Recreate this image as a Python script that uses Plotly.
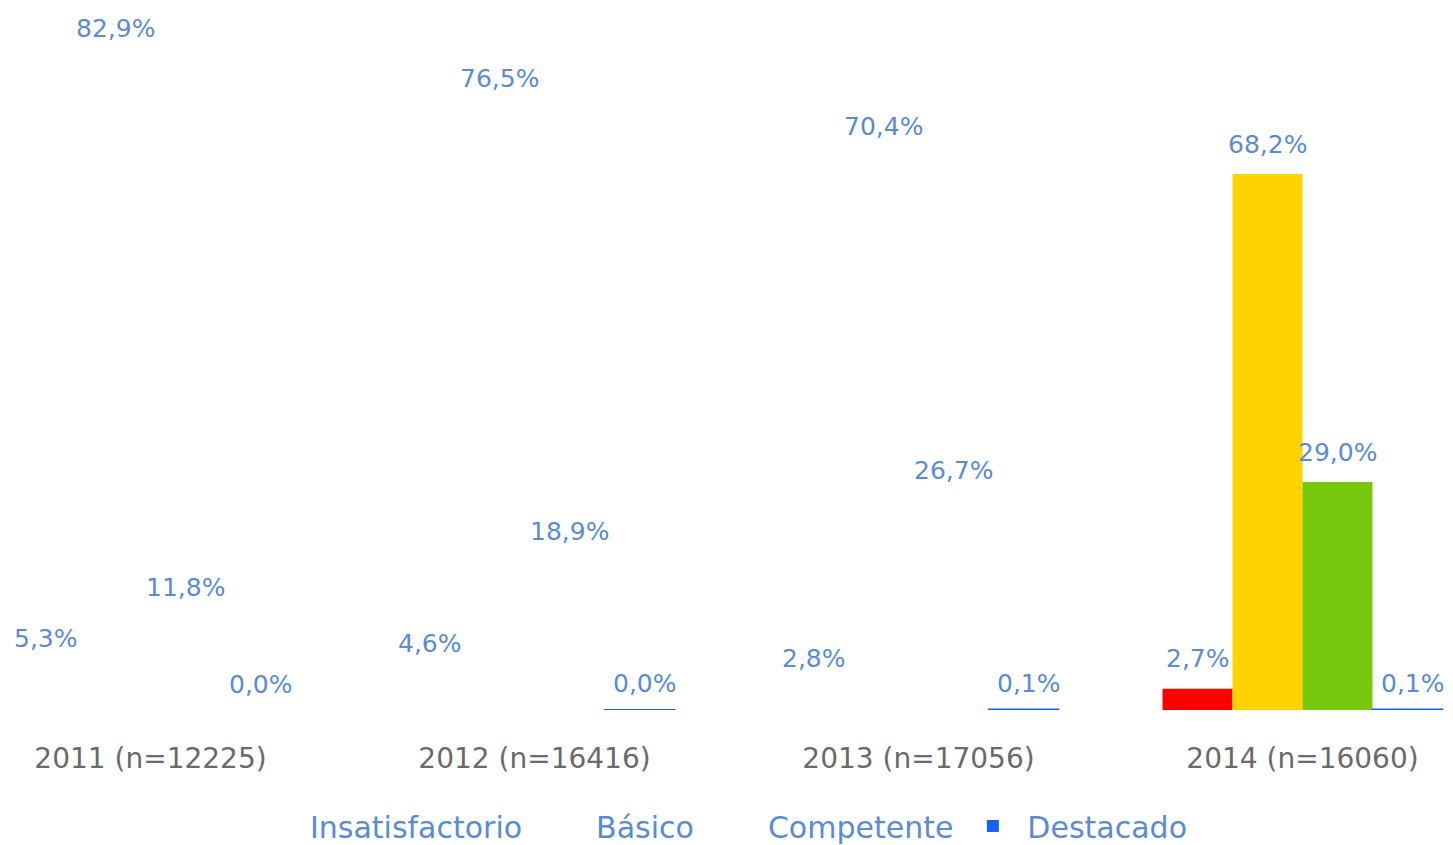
import plotly.graph_objects as go

categories = ["2011 (n=12225)", "2012 (n=16416)", "2013 (n=17056)", "2014 (n=16060)"]
series_names = ["Insatisfactorio", "Básico", "Competente", "Destacado"]
insatisfactorio = [5.3, 4.6, 2.8, 2.7]
basico = [82.9, 76.5, 70.4, 68.2]
competente = [11.8, 18.9, 26.7, 29.0]
destacado = [0.0, 0.04, 0.1, 0.1]

series_values = [insatisfactorio, basico, competente, destacado]
point_colors = [
    ["#FFFFFF", "#FFFFFF", "#FFFFFF", "#FF0000"],
    ["#FFFFFF", "#FFFFFF", "#FFFFFF", "#FFD200"],
    ["#FFFFFF", "#FFFFFF", "#FFFFFF", "#77C80C"],
    ["#1560FF", "#1560FF", "#1560FF", "#1560FF"],
]
line_widths = [
    [0, 0, 0, 0],
    [0, 0, 0, 0],
    [0, 0, 0, 0],
    [0, 1.6, 1.6, 1.6],
]
label_xshift = [0, 0, 0, 6]
label_yshift = [30, 30, 30, 26]

LABEL = "#5A8BD6"
FONT = "DejaVu Sans"
BARGAP = 0.271
n_series = len(series_names)
bar_w = (1 - BARGAP) / n_series

fig = go.Figure()
annotations = []
for j, (name, vals, cols, lw) in enumerate(zip(series_names, series_values, point_colors, line_widths)):
    fig.add_trace(go.Bar(
        name=name,
        x=categories,
        y=vals,
        marker=dict(color=cols, line=dict(color=cols, width=lw)),
        cliponaxis=False,
    ))
    for i, v in enumerate(vals):
        annotations.append(dict(
            x=i + (j - (n_series - 1) / 2) * bar_w, y=v, xref="x", yref="y",
            text=f"{v:.1f}".replace(".", ",") + "%",
            showarrow=False, yanchor="middle", xanchor="center",
            yshift=label_yshift[j], xshift=label_xshift[j],
            font=dict(color=LABEL, size=25, family=FONT),
        ))

fig.update_layout(
    width=1453, height=845,
    margin=dict(l=0, r=0, t=0, b=143),
    paper_bgcolor="white", plot_bgcolor="white",
    barmode="group", bargap=BARGAP, bargroupgap=0,
    showlegend=True,
    annotations=annotations,
    legend=dict(orientation="h", x=0.4879, xanchor="center", xref="container",
                y=0.032, yanchor="middle", yref="container",
                font=dict(color=LABEL, size=30, family=FONT), itemwidth=59),
    xaxis=dict(type="category", range=[-0.3711, 3.4128], showgrid=False, showline=False,
               ticks="", tickfont=dict(color="#6A6A6A", size=28, family=FONT),
               ticklabelstandoff=29),
    yaxis=dict(range=[0, 89.33], visible=False, showgrid=False),
)

fig.write_html("out.html")
